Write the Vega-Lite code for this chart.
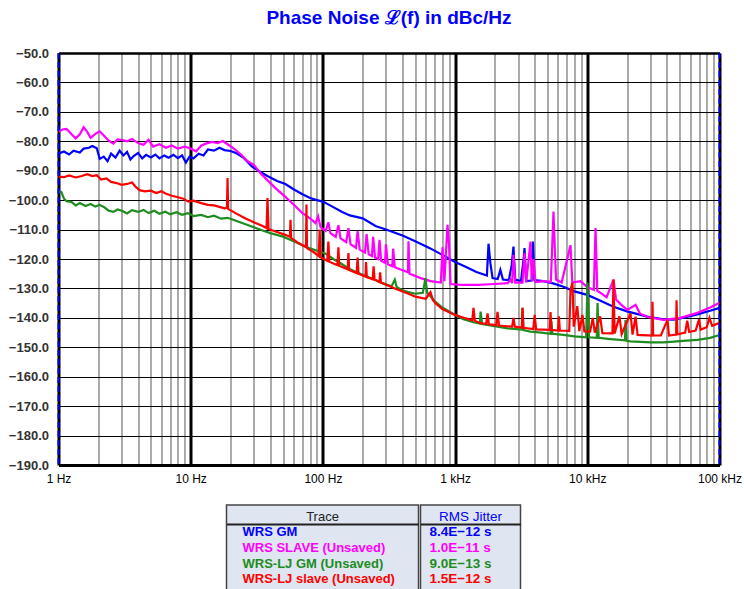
{
  "$schema": "https://vega.github.io/schema/vega-lite/v6.json",
  "padding": {"left": 8, "top": 9, "right": 0, "bottom": 0},
  "background": "white",
  "config": {"font": "Liberation Sans", "view": {"stroke": null}},
  "center": true,
  "spacing": 20,
  "datasets": {
    "tbl": [
      {"row": "h", "name": "Trace", "jitter": "RMS Jitter"},
      {"row": "1", "name": "WRS GM", "jitter": "8.4E−12 s"},
      {"row": "2", "name": "WRS SLAVE (Unsaved)", "jitter": "1.0E−11 s"},
      {"row": "3", "name": "WRS-LJ GM (Unsaved)", "jitter": "9.0E−13 s"},
      {"row": "4", "name": "WRS-LJ slave (Unsaved)", "jitter": "1.5E−12 s"}
    ]
  },
  "vconcat": [
    {
      "width": 661,
      "height": 412,
      "title": {"text": "Phase Noise ℒ(f) in dBc/Hz", "color": "#0000ff", "fontSize": 19, "fontWeight": "bold", "font": "Liberation Sans", "anchor": "middle", "frame": "group", "offset": 19},
      "layer": [
        {
          "data": {"values": [
            {"trace":"WRS GM","hz":1,"dbc":-84.2},{"trace":"WRS GM","hz":1.1,"dbc":-83.5},{"trace":"WRS GM","hz":1.2,"dbc":-84.5},{"trace":"WRS GM","hz":1.3,"dbc":-83.2},{"trace":"WRS GM","hz":1.45,"dbc":-83.8},{"trace":"WRS GM","hz":1.55,"dbc":-82.5},{"trace":"WRS GM","hz":1.7,"dbc":-82.2},{"trace":"WRS GM","hz":1.8,"dbc":-81.6},{"trace":"WRS GM","hz":1.95,"dbc":-82.4},{"trace":"WRS GM","hz":2.05,"dbc":-86.0},{"trace":"WRS GM","hz":2.2,"dbc":-85.2},{"trace":"WRS GM","hz":2.35,"dbc":-86.8},{"trace":"WRS GM","hz":2.5,"dbc":-84.2},{"trace":"WRS GM","hz":2.7,"dbc":-85.5},{"trace":"WRS GM","hz":2.9,"dbc":-83.2},{"trace":"WRS GM","hz":3.1,"dbc":-84.8},{"trace":"WRS GM","hz":3.3,"dbc":-83.6},{"trace":"WRS GM","hz":3.5,"dbc":-86.2},{"trace":"WRS GM","hz":3.7,"dbc":-85.0},{"trace":"WRS GM","hz":4.0,"dbc":-84.0},{"trace":"WRS GM","hz":4.3,"dbc":-85.8},{"trace":"WRS GM","hz":4.6,"dbc":-84.6},{"trace":"WRS GM","hz":5.0,"dbc":-85.5},{"trace":"WRS GM","hz":5.4,"dbc":-84.5},{"trace":"WRS GM","hz":5.8,"dbc":-85.8},{"trace":"WRS GM","hz":6.3,"dbc":-84.8},{"trace":"WRS GM","hz":6.8,"dbc":-85.6},{"trace":"WRS GM","hz":7.4,"dbc":-84.6},{"trace":"WRS GM","hz":8.0,"dbc":-85.7},{"trace":"WRS GM","hz":8.6,"dbc":-84.8},{"trace":"WRS GM","hz":9.2,"dbc":-87.2},{"trace":"WRS GM","hz":9.8,"dbc":-85.2},{"trace":"WRS GM","hz":10.5,"dbc":-85.8},{"trace":"WRS GM","hz":11.5,"dbc":-84.2},{"trace":"WRS GM","hz":12.5,"dbc":-84.8},{"trace":"WRS GM","hz":13.5,"dbc":-82.8},{"trace":"WRS GM","hz":15,"dbc":-83.2},{"trace":"WRS GM","hz":16.5,"dbc":-82.2},{"trace":"WRS GM","hz":18,"dbc":-83.0},{"trace":"WRS GM","hz":20,"dbc":-83.3},{"trace":"WRS GM","hz":22,"dbc":-84.0},{"trace":"WRS GM","hz":25,"dbc":-85.5},{"trace":"WRS GM","hz":29,"dbc":-88.5},{"trace":"WRS GM","hz":33,"dbc":-90.2},{"trace":"WRS GM","hz":38,"dbc":-91.8},{"trace":"WRS GM","hz":45,"dbc":-93.5},{"trace":"WRS GM","hz":52,"dbc":-94.5},{"trace":"WRS GM","hz":60,"dbc":-96.3},{"trace":"WRS GM","hz":70,"dbc":-98.0},{"trace":"WRS GM","hz":80,"dbc":-99.3},{"trace":"WRS GM","hz":90,"dbc":-100.0},{"trace":"WRS GM","hz":100,"dbc":-100.5},{"trace":"WRS GM","hz":118,"dbc":-102.2},{"trace":"WRS GM","hz":140,"dbc":-104.0},{"trace":"WRS GM","hz":160,"dbc":-105.2},{"trace":"WRS GM","hz":200,"dbc":-106.2},{"trace":"WRS GM","hz":250,"dbc":-108.8},{"trace":"WRS GM","hz":300,"dbc":-110.0},{"trace":"WRS GM","hz":400,"dbc":-112.0},{"trace":"WRS GM","hz":500,"dbc":-114.0},{"trace":"WRS GM","hz":650,"dbc":-116.4},{"trace":"WRS GM","hz":800,"dbc":-118.6},{"trace":"WRS GM","hz":1000,"dbc":-121.0},{"trace":"WRS GM","hz":1200,"dbc":-122.6},{"trace":"WRS GM","hz":1450,"dbc":-124.4},{"trace":"WRS GM","hz":1740,"dbc":-125.6},{"trace":"WRS GM","hz":1790,"dbc":-114.8},{"trace":"WRS GM","hz":1850,"dbc":-121.5},{"trace":"WRS GM","hz":1920,"dbc":-126.5},{"trace":"WRS GM","hz":2100,"dbc":-126.8},{"trace":"WRS GM","hz":2200,"dbc":-123.7},{"trace":"WRS GM","hz":2300,"dbc":-127.0},{"trace":"WRS GM","hz":2550,"dbc":-127.2},{"trace":"WRS GM","hz":2680,"dbc":-122.0},{"trace":"WRS GM","hz":2765,"dbc":-115.8},{"trace":"WRS GM","hz":2850,"dbc":-127.0},{"trace":"WRS GM","hz":3150,"dbc":-127.5},{"trace":"WRS GM","hz":3300,"dbc":-120.0},{"trace":"WRS GM","hz":3350,"dbc":-116.3},{"trace":"WRS GM","hz":3450,"dbc":-127.5},{"trace":"WRS GM","hz":3800,"dbc":-127.3},{"trace":"WRS GM","hz":3880,"dbc":-114.1},{"trace":"WRS GM","hz":3980,"dbc":-127.2},{"trace":"WRS GM","hz":4660,"dbc":-127.5},{"trace":"WRS GM","hz":5500,"dbc":-128.3},{"trace":"WRS GM","hz":6600,"dbc":-129.4},{"trace":"WRS GM","hz":8000,"dbc":-131.0},{"trace":"WRS GM","hz":10000,"dbc":-132.2},{"trace":"WRS GM","hz":12000,"dbc":-133.8},{"trace":"WRS GM","hz":15800,"dbc":-136.2},{"trace":"WRS GM","hz":20000,"dbc":-137.8},{"trace":"WRS GM","hz":28500,"dbc":-139.6},{"trace":"WRS GM","hz":37700,"dbc":-140.5},{"trace":"WRS GM","hz":45000,"dbc":-140.6},{"trace":"WRS GM","hz":53500,"dbc":-139.9},{"trace":"WRS GM","hz":68000,"dbc":-138.8},{"trace":"WRS GM","hz":85000,"dbc":-137.6},{"trace":"WRS GM","hz":100000,"dbc":-136.6},

            {"trace":"WRS SLAVE (Unsaved)","hz":1,"dbc":-76.8},{"trace":"WRS SLAVE (Unsaved)","hz":1.07,"dbc":-76.0},{"trace":"WRS SLAVE (Unsaved)","hz":1.15,"dbc":-75.8},{"trace":"WRS SLAVE (Unsaved)","hz":1.25,"dbc":-77.5},{"trace":"WRS SLAVE (Unsaved)","hz":1.35,"dbc":-79.0},{"trace":"WRS SLAVE (Unsaved)","hz":1.45,"dbc":-77.6},{"trace":"WRS SLAVE (Unsaved)","hz":1.55,"dbc":-75.2},{"trace":"WRS SLAVE (Unsaved)","hz":1.65,"dbc":-76.8},{"trace":"WRS SLAVE (Unsaved)","hz":1.75,"dbc":-78.8},{"trace":"WRS SLAVE (Unsaved)","hz":1.9,"dbc":-77.5},{"trace":"WRS SLAVE (Unsaved)","hz":2.05,"dbc":-76.6},{"trace":"WRS SLAVE (Unsaved)","hz":2.2,"dbc":-78.0},{"trace":"WRS SLAVE (Unsaved)","hz":2.4,"dbc":-79.8},{"trace":"WRS SLAVE (Unsaved)","hz":2.6,"dbc":-80.8},{"trace":"WRS SLAVE (Unsaved)","hz":2.8,"dbc":-79.4},{"trace":"WRS SLAVE (Unsaved)","hz":3.05,"dbc":-79.6},{"trace":"WRS SLAVE (Unsaved)","hz":3.3,"dbc":-80.0},{"trace":"WRS SLAVE (Unsaved)","hz":3.6,"dbc":-79.2},{"trace":"WRS SLAVE (Unsaved)","hz":4.0,"dbc":-80.6},{"trace":"WRS SLAVE (Unsaved)","hz":4.4,"dbc":-81.2},{"trace":"WRS SLAVE (Unsaved)","hz":4.8,"dbc":-79.5},{"trace":"WRS SLAVE (Unsaved)","hz":5.2,"dbc":-81.8},{"trace":"WRS SLAVE (Unsaved)","hz":5.8,"dbc":-81.0},{"trace":"WRS SLAVE (Unsaved)","hz":6.5,"dbc":-82.2},{"trace":"WRS SLAVE (Unsaved)","hz":7.2,"dbc":-81.4},{"trace":"WRS SLAVE (Unsaved)","hz":8.0,"dbc":-82.5},{"trace":"WRS SLAVE (Unsaved)","hz":9.0,"dbc":-81.8},{"trace":"WRS SLAVE (Unsaved)","hz":10.0,"dbc":-82.5},{"trace":"WRS SLAVE (Unsaved)","hz":11,"dbc":-83.4},{"trace":"WRS SLAVE (Unsaved)","hz":12,"dbc":-81.5},{"trace":"WRS SLAVE (Unsaved)","hz":13,"dbc":-80.8},{"trace":"WRS SLAVE (Unsaved)","hz":14.5,"dbc":-80.2},{"trace":"WRS SLAVE (Unsaved)","hz":16,"dbc":-80.6},{"trace":"WRS SLAVE (Unsaved)","hz":17.5,"dbc":-79.9},{"trace":"WRS SLAVE (Unsaved)","hz":19,"dbc":-81.0},{"trace":"WRS SLAVE (Unsaved)","hz":21,"dbc":-82.3},{"trace":"WRS SLAVE (Unsaved)","hz":24,"dbc":-84.5},{"trace":"WRS SLAVE (Unsaved)","hz":27,"dbc":-86.8},{"trace":"WRS SLAVE (Unsaved)","hz":30,"dbc":-88.0},{"trace":"WRS SLAVE (Unsaved)","hz":34,"dbc":-91.0},{"trace":"WRS SLAVE (Unsaved)","hz":38,"dbc":-93.2},{"trace":"WRS SLAVE (Unsaved)","hz":44,"dbc":-96.0},{"trace":"WRS SLAVE (Unsaved)","hz":52,"dbc":-98.9},{"trace":"WRS SLAVE (Unsaved)","hz":60,"dbc":-101.5},{"trace":"WRS SLAVE (Unsaved)","hz":70,"dbc":-104.4},{"trace":"WRS SLAVE (Unsaved)","hz":80,"dbc":-106.2},{"trace":"WRS SLAVE (Unsaved)","hz":88,"dbc":-107.8},{"trace":"WRS SLAVE (Unsaved)","hz":92,"dbc":-105.5},{"trace":"WRS SLAVE (Unsaved)","hz":96,"dbc":-109.2},{"trace":"WRS SLAVE (Unsaved)","hz":105,"dbc":-110.5},{"trace":"WRS SLAVE (Unsaved)","hz":110,"dbc":-107.5},{"trace":"WRS SLAVE (Unsaved)","hz":114,"dbc":-111.2},{"trace":"WRS SLAVE (Unsaved)","hz":125,"dbc":-112.5},{"trace":"WRS SLAVE (Unsaved)","hz":131,"dbc":-108.5},{"trace":"WRS SLAVE (Unsaved)","hz":136,"dbc":-113.0},{"trace":"WRS SLAVE (Unsaved)","hz":150,"dbc":-114.3},{"trace":"WRS SLAVE (Unsaved)","hz":156,"dbc":-109.5},{"trace":"WRS SLAVE (Unsaved)","hz":162,"dbc":-115.0},{"trace":"WRS SLAVE (Unsaved)","hz":178,"dbc":-116.2},{"trace":"WRS SLAVE (Unsaved)","hz":183,"dbc":-110.5},{"trace":"WRS SLAVE (Unsaved)","hz":190,"dbc":-116.8},{"trace":"WRS SLAVE (Unsaved)","hz":208,"dbc":-117.8},{"trace":"WRS SLAVE (Unsaved)","hz":214,"dbc":-111.5},{"trace":"WRS SLAVE (Unsaved)","hz":222,"dbc":-118.4},{"trace":"WRS SLAVE (Unsaved)","hz":235,"dbc":-119.0},{"trace":"WRS SLAVE (Unsaved)","hz":240,"dbc":-112.5},{"trace":"WRS SLAVE (Unsaved)","hz":248,"dbc":-119.5},{"trace":"WRS SLAVE (Unsaved)","hz":262,"dbc":-120.0},{"trace":"WRS SLAVE (Unsaved)","hz":268,"dbc":-113.5},{"trace":"WRS SLAVE (Unsaved)","hz":276,"dbc":-120.6},{"trace":"WRS SLAVE (Unsaved)","hz":295,"dbc":-121.3},{"trace":"WRS SLAVE (Unsaved)","hz":300,"dbc":-115.0},{"trace":"WRS SLAVE (Unsaved)","hz":310,"dbc":-121.8},{"trace":"WRS SLAVE (Unsaved)","hz":335,"dbc":-122.5},{"trace":"WRS SLAVE (Unsaved)","hz":340,"dbc":-116.5},{"trace":"WRS SLAVE (Unsaved)","hz":350,"dbc":-122.8},{"trace":"WRS SLAVE (Unsaved)","hz":400,"dbc":-123.8},{"trace":"WRS SLAVE (Unsaved)","hz":440,"dbc":-124.5},{"trace":"WRS SLAVE (Unsaved)","hz":444,"dbc":-114.0},{"trace":"WRS SLAVE (Unsaved)","hz":452,"dbc":-125.0},{"trace":"WRS SLAVE (Unsaved)","hz":550,"dbc":-126.5},{"trace":"WRS SLAVE (Unsaved)","hz":650,"dbc":-127.5},{"trace":"WRS SLAVE (Unsaved)","hz":780,"dbc":-128.0},{"trace":"WRS SLAVE (Unsaved)","hz":803,"dbc":-116.0},{"trace":"WRS SLAVE (Unsaved)","hz":830,"dbc":-127.5},{"trace":"WRS SLAVE (Unsaved)","hz":876,"dbc":-108.4},{"trace":"WRS SLAVE (Unsaved)","hz":900,"dbc":-115.0},{"trace":"WRS SLAVE (Unsaved)","hz":923,"dbc":-128.5},{"trace":"WRS SLAVE (Unsaved)","hz":1100,"dbc":-128.8},{"trace":"WRS SLAVE (Unsaved)","hz":1500,"dbc":-128.8},{"trace":"WRS SLAVE (Unsaved)","hz":2000,"dbc":-128.5},{"trace":"WRS SLAVE (Unsaved)","hz":2500,"dbc":-128.2},{"trace":"WRS SLAVE (Unsaved)","hz":2623,"dbc":-127.0},{"trace":"WRS SLAVE (Unsaved)","hz":2700,"dbc":-128.2},{"trace":"WRS SLAVE (Unsaved)","hz":2765,"dbc":-118.6},{"trace":"WRS SLAVE (Unsaved)","hz":2850,"dbc":-128.0},{"trace":"WRS SLAVE (Unsaved)","hz":3235,"dbc":-128.0},{"trace":"WRS SLAVE (Unsaved)","hz":3350,"dbc":-118.0},{"trace":"WRS SLAVE (Unsaved)","hz":3450,"dbc":-128.0},{"trace":"WRS SLAVE (Unsaved)","hz":3718,"dbc":-114.1},{"trace":"WRS SLAVE (Unsaved)","hz":3800,"dbc":-127.5},{"trace":"WRS SLAVE (Unsaved)","hz":3918,"dbc":-120.0},{"trace":"WRS SLAVE (Unsaved)","hz":4050,"dbc":-127.8},{"trace":"WRS SLAVE (Unsaved)","hz":4666,"dbc":-127.5},{"trace":"WRS SLAVE (Unsaved)","hz":5300,"dbc":-127.8},{"trace":"WRS SLAVE (Unsaved)","hz":5550,"dbc":-103.9},{"trace":"WRS SLAVE (Unsaved)","hz":5800,"dbc":-127.0},{"trace":"WRS SLAVE (Unsaved)","hz":6400,"dbc":-128.0},{"trace":"WRS SLAVE (Unsaved)","hz":7464,"dbc":-115.3},{"trace":"WRS SLAVE (Unsaved)","hz":7700,"dbc":-128.0},{"trace":"WRS SLAVE (Unsaved)","hz":8885,"dbc":-127.5},{"trace":"WRS SLAVE (Unsaved)","hz":10000,"dbc":-129.5},{"trace":"WRS SLAVE (Unsaved)","hz":11200,"dbc":-130.5},{"trace":"WRS SLAVE (Unsaved)","hz":11540,"dbc":-109.5},{"trace":"WRS SLAVE (Unsaved)","hz":11900,"dbc":-130.8},{"trace":"WRS SLAVE (Unsaved)","hz":12590,"dbc":-131.5},{"trace":"WRS SLAVE (Unsaved)","hz":14000,"dbc":-133.0},{"trace":"WRS SLAVE (Unsaved)","hz":15780,"dbc":-127.0},{"trace":"WRS SLAVE (Unsaved)","hz":16500,"dbc":-133.8},{"trace":"WRS SLAVE (Unsaved)","hz":18000,"dbc":-135.5},{"trace":"WRS SLAVE (Unsaved)","hz":20140,"dbc":-137.3},{"trace":"WRS SLAVE (Unsaved)","hz":23170,"dbc":-135.6},{"trace":"WRS SLAVE (Unsaved)","hz":25000,"dbc":-138.5},{"trace":"WRS SLAVE (Unsaved)","hz":28500,"dbc":-139.7},{"trace":"WRS SLAVE (Unsaved)","hz":37700,"dbc":-140.7},{"trace":"WRS SLAVE (Unsaved)","hz":50700,"dbc":-140.0},{"trace":"WRS SLAVE (Unsaved)","hz":68000,"dbc":-138.3},{"trace":"WRS SLAVE (Unsaved)","hz":85000,"dbc":-136.5},{"trace":"WRS SLAVE (Unsaved)","hz":100000,"dbc":-134.9},

            {"trace":"WRS-LJ GM (Unsaved)","hz":1,"dbc":-97.0},{"trace":"WRS-LJ GM (Unsaved)","hz":1.05,"dbc":-97.2},{"trace":"WRS-LJ GM (Unsaved)","hz":1.1,"dbc":-99.5},{"trace":"WRS-LJ GM (Unsaved)","hz":1.15,"dbc":-100.4},{"trace":"WRS-LJ GM (Unsaved)","hz":1.25,"dbc":-100.6},{"trace":"WRS-LJ GM (Unsaved)","hz":1.35,"dbc":-101.8},{"trace":"WRS-LJ GM (Unsaved)","hz":1.45,"dbc":-101.0},{"trace":"WRS-LJ GM (Unsaved)","hz":1.6,"dbc":-102.0},{"trace":"WRS-LJ GM (Unsaved)","hz":1.75,"dbc":-101.3},{"trace":"WRS-LJ GM (Unsaved)","hz":1.9,"dbc":-102.2},{"trace":"WRS-LJ GM (Unsaved)","hz":2.05,"dbc":-101.6},{"trace":"WRS-LJ GM (Unsaved)","hz":2.2,"dbc":-102.3},{"trace":"WRS-LJ GM (Unsaved)","hz":2.4,"dbc":-103.6},{"trace":"WRS-LJ GM (Unsaved)","hz":2.6,"dbc":-104.0},{"trace":"WRS-LJ GM (Unsaved)","hz":2.8,"dbc":-103.2},{"trace":"WRS-LJ GM (Unsaved)","hz":3.05,"dbc":-103.7},{"trace":"WRS-LJ GM (Unsaved)","hz":3.3,"dbc":-104.5},{"trace":"WRS-LJ GM (Unsaved)","hz":3.6,"dbc":-103.4},{"trace":"WRS-LJ GM (Unsaved)","hz":4.0,"dbc":-104.0},{"trace":"WRS-LJ GM (Unsaved)","hz":4.4,"dbc":-103.3},{"trace":"WRS-LJ GM (Unsaved)","hz":4.8,"dbc":-104.4},{"trace":"WRS-LJ GM (Unsaved)","hz":5.3,"dbc":-103.6},{"trace":"WRS-LJ GM (Unsaved)","hz":5.8,"dbc":-104.6},{"trace":"WRS-LJ GM (Unsaved)","hz":6.4,"dbc":-103.9},{"trace":"WRS-LJ GM (Unsaved)","hz":7.0,"dbc":-104.8},{"trace":"WRS-LJ GM (Unsaved)","hz":7.8,"dbc":-104.1},{"trace":"WRS-LJ GM (Unsaved)","hz":8.6,"dbc":-105.0},{"trace":"WRS-LJ GM (Unsaved)","hz":9.5,"dbc":-104.4},{"trace":"WRS-LJ GM (Unsaved)","hz":10.5,"dbc":-105.4},{"trace":"WRS-LJ GM (Unsaved)","hz":12,"dbc":-105.0},{"trace":"WRS-LJ GM (Unsaved)","hz":13.5,"dbc":-105.8},{"trace":"WRS-LJ GM (Unsaved)","hz":15,"dbc":-105.3},{"trace":"WRS-LJ GM (Unsaved)","hz":17,"dbc":-106.3},{"trace":"WRS-LJ GM (Unsaved)","hz":19,"dbc":-106.0},{"trace":"WRS-LJ GM (Unsaved)","hz":22,"dbc":-107.0},{"trace":"WRS-LJ GM (Unsaved)","hz":26,"dbc":-108.2},{"trace":"WRS-LJ GM (Unsaved)","hz":30,"dbc":-109.2},{"trace":"WRS-LJ GM (Unsaved)","hz":35,"dbc":-110.3},{"trace":"WRS-LJ GM (Unsaved)","hz":40,"dbc":-111.2},{"trace":"WRS-LJ GM (Unsaved)","hz":50,"dbc":-112.4},{"trace":"WRS-LJ GM (Unsaved)","hz":60,"dbc":-114.0},{"trace":"WRS-LJ GM (Unsaved)","hz":70,"dbc":-115.3},{"trace":"WRS-LJ GM (Unsaved)","hz":80,"dbc":-116.4},{"trace":"WRS-LJ GM (Unsaved)","hz":90,"dbc":-117.2},{"trace":"WRS-LJ GM (Unsaved)","hz":105,"dbc":-118.2},{"trace":"WRS-LJ GM (Unsaved)","hz":120,"dbc":-120.0},{"trace":"WRS-LJ GM (Unsaved)","hz":140,"dbc":-121.8},{"trace":"WRS-LJ GM (Unsaved)","hz":156,"dbc":-123.2},{"trace":"WRS-LJ GM (Unsaved)","hz":180,"dbc":-124.5},{"trace":"WRS-LJ GM (Unsaved)","hz":210,"dbc":-125.8},{"trace":"WRS-LJ GM (Unsaved)","hz":240,"dbc":-126.8},{"trace":"WRS-LJ GM (Unsaved)","hz":282,"dbc":-128.2},{"trace":"WRS-LJ GM (Unsaved)","hz":330,"dbc":-129.3},{"trace":"WRS-LJ GM (Unsaved)","hz":350,"dbc":-127.0},{"trace":"WRS-LJ GM (Unsaved)","hz":362,"dbc":-129.6},{"trace":"WRS-LJ GM (Unsaved)","hz":420,"dbc":-131.0},{"trace":"WRS-LJ GM (Unsaved)","hz":500,"dbc":-131.8},{"trace":"WRS-LJ GM (Unsaved)","hz":570,"dbc":-131.5},{"trace":"WRS-LJ GM (Unsaved)","hz":597,"dbc":-126.5},{"trace":"WRS-LJ GM (Unsaved)","hz":615,"dbc":-131.5},{"trace":"WRS-LJ GM (Unsaved)","hz":711,"dbc":-134.6},{"trace":"WRS-LJ GM (Unsaved)","hz":800,"dbc":-136.5},{"trace":"WRS-LJ GM (Unsaved)","hz":1000,"dbc":-139.0},{"trace":"WRS-LJ GM (Unsaved)","hz":1158,"dbc":-140.5},{"trace":"WRS-LJ GM (Unsaved)","hz":1378,"dbc":-141.5},{"trace":"WRS-LJ GM (Unsaved)","hz":1540,"dbc":-142.0},{"trace":"WRS-LJ GM (Unsaved)","hz":1560,"dbc":-137.9},{"trace":"WRS-LJ GM (Unsaved)","hz":1600,"dbc":-142.1},{"trace":"WRS-LJ GM (Unsaved)","hz":2093,"dbc":-143.0},{"trace":"WRS-LJ GM (Unsaved)","hz":2500,"dbc":-143.6},{"trace":"WRS-LJ GM (Unsaved)","hz":3200,"dbc":-144.0},{"trace":"WRS-LJ GM (Unsaved)","hz":3235,"dbc":-136.6},{"trace":"WRS-LJ GM (Unsaved)","hz":3300,"dbc":-144.2},{"trace":"WRS-LJ GM (Unsaved)","hz":3718,"dbc":-144.7},{"trace":"WRS-LJ GM (Unsaved)","hz":4500,"dbc":-145.0},{"trace":"WRS-LJ GM (Unsaved)","hz":5270,"dbc":-145.4},{"trace":"WRS-LJ GM (Unsaved)","hz":5350,"dbc":-141.0},{"trace":"WRS-LJ GM (Unsaved)","hz":5450,"dbc":-145.4},{"trace":"WRS-LJ GM (Unsaved)","hz":6607,"dbc":-145.8},{"trace":"WRS-LJ GM (Unsaved)","hz":8000,"dbc":-146.3},{"trace":"WRS-LJ GM (Unsaved)","hz":9800,"dbc":-146.6},{"trace":"WRS-LJ GM (Unsaved)","hz":10040,"dbc":-128.0},{"trace":"WRS-LJ GM (Unsaved)","hz":10300,"dbc":-146.6},{"trace":"WRS-LJ GM (Unsaved)","hz":11800,"dbc":-146.8},{"trace":"WRS-LJ GM (Unsaved)","hz":11950,"dbc":-135.0},{"trace":"WRS-LJ GM (Unsaved)","hz":12200,"dbc":-146.8},{"trace":"WRS-LJ GM (Unsaved)","hz":15000,"dbc":-147.2},{"trace":"WRS-LJ GM (Unsaved)","hz":19300,"dbc":-147.6},{"trace":"WRS-LJ GM (Unsaved)","hz":19450,"dbc":-140.7},{"trace":"WRS-LJ GM (Unsaved)","hz":19800,"dbc":-147.8},{"trace":"WRS-LJ GM (Unsaved)","hz":21230,"dbc":-148.0},{"trace":"WRS-LJ GM (Unsaved)","hz":30000,"dbc":-148.3},{"trace":"WRS-LJ GM (Unsaved)","hz":37670,"dbc":-148.3},{"trace":"WRS-LJ GM (Unsaved)","hz":45000,"dbc":-148.1},{"trace":"WRS-LJ GM (Unsaved)","hz":53000,"dbc":-147.8},{"trace":"WRS-LJ GM (Unsaved)","hz":68000,"dbc":-147.5},{"trace":"WRS-LJ GM (Unsaved)","hz":85000,"dbc":-146.8},{"trace":"WRS-LJ GM (Unsaved)","hz":100000,"dbc":-145.8},

            {"trace":"WRS-LJ slave (Unsaved)","hz":1,"dbc":-92.0},{"trace":"WRS-LJ slave (Unsaved)","hz":1.1,"dbc":-92.2},{"trace":"WRS-LJ slave (Unsaved)","hz":1.2,"dbc":-91.6},{"trace":"WRS-LJ slave (Unsaved)","hz":1.35,"dbc":-92.3},{"trace":"WRS-LJ slave (Unsaved)","hz":1.5,"dbc":-91.8},{"trace":"WRS-LJ slave (Unsaved)","hz":1.65,"dbc":-91.2},{"trace":"WRS-LJ slave (Unsaved)","hz":1.8,"dbc":-91.8},{"trace":"WRS-LJ slave (Unsaved)","hz":1.95,"dbc":-91.5},{"trace":"WRS-LJ slave (Unsaved)","hz":2.1,"dbc":-93.0},{"trace":"WRS-LJ slave (Unsaved)","hz":2.3,"dbc":-92.6},{"trace":"WRS-LJ slave (Unsaved)","hz":2.5,"dbc":-93.8},{"trace":"WRS-LJ slave (Unsaved)","hz":2.75,"dbc":-94.2},{"trace":"WRS-LJ slave (Unsaved)","hz":3.0,"dbc":-94.8},{"trace":"WRS-LJ slave (Unsaved)","hz":3.3,"dbc":-94.5},{"trace":"WRS-LJ slave (Unsaved)","hz":3.6,"dbc":-94.0},{"trace":"WRS-LJ slave (Unsaved)","hz":3.8,"dbc":-95.3},{"trace":"WRS-LJ slave (Unsaved)","hz":4.1,"dbc":-96.6},{"trace":"WRS-LJ slave (Unsaved)","hz":4.5,"dbc":-97.0},{"trace":"WRS-LJ slave (Unsaved)","hz":5.0,"dbc":-96.8},{"trace":"WRS-LJ slave (Unsaved)","hz":5.5,"dbc":-97.6},{"trace":"WRS-LJ slave (Unsaved)","hz":6.0,"dbc":-97.0},{"trace":"WRS-LJ slave (Unsaved)","hz":6.5,"dbc":-97.8},{"trace":"WRS-LJ slave (Unsaved)","hz":7.2,"dbc":-98.5},{"trace":"WRS-LJ slave (Unsaved)","hz":8.0,"dbc":-99.0},{"trace":"WRS-LJ slave (Unsaved)","hz":8.8,"dbc":-99.5},{"trace":"WRS-LJ slave (Unsaved)","hz":9.6,"dbc":-100.5},{"trace":"WRS-LJ slave (Unsaved)","hz":10.5,"dbc":-100.2},{"trace":"WRS-LJ slave (Unsaved)","hz":12,"dbc":-101.0},{"trace":"WRS-LJ slave (Unsaved)","hz":13.5,"dbc":-101.6},{"trace":"WRS-LJ slave (Unsaved)","hz":15,"dbc":-101.8},{"trace":"WRS-LJ slave (Unsaved)","hz":16.5,"dbc":-102.3},{"trace":"WRS-LJ slave (Unsaved)","hz":18,"dbc":-102.8},{"trace":"WRS-LJ slave (Unsaved)","hz":18.8,"dbc":-102.6},{"trace":"WRS-LJ slave (Unsaved)","hz":19.0,"dbc":-92.5},{"trace":"WRS-LJ slave (Unsaved)","hz":19.2,"dbc":-103.0},{"trace":"WRS-LJ slave (Unsaved)","hz":22,"dbc":-104.5},{"trace":"WRS-LJ slave (Unsaved)","hz":26,"dbc":-106.2},{"trace":"WRS-LJ slave (Unsaved)","hz":30,"dbc":-107.5},{"trace":"WRS-LJ slave (Unsaved)","hz":35,"dbc":-108.8},{"trace":"WRS-LJ slave (Unsaved)","hz":37.5,"dbc":-109.5},{"trace":"WRS-LJ slave (Unsaved)","hz":38.1,"dbc":-99.3},{"trace":"WRS-LJ slave (Unsaved)","hz":38.8,"dbc":-109.8},{"trace":"WRS-LJ slave (Unsaved)","hz":45,"dbc":-110.8},{"trace":"WRS-LJ slave (Unsaved)","hz":52,"dbc":-111.8},{"trace":"WRS-LJ slave (Unsaved)","hz":56.3,"dbc":-112.5},{"trace":"WRS-LJ slave (Unsaved)","hz":56.9,"dbc":-106.7},{"trace":"WRS-LJ slave (Unsaved)","hz":57.5,"dbc":-112.8},{"trace":"WRS-LJ slave (Unsaved)","hz":65,"dbc":-114.5},{"trace":"WRS-LJ slave (Unsaved)","hz":74.5,"dbc":-116.0},{"trace":"WRS-LJ slave (Unsaved)","hz":75.1,"dbc":-101.5},{"trace":"WRS-LJ slave (Unsaved)","hz":75.8,"dbc":-116.3},{"trace":"WRS-LJ slave (Unsaved)","hz":86,"dbc":-117.8},{"trace":"WRS-LJ slave (Unsaved)","hz":93,"dbc":-119.0},{"trace":"WRS-LJ slave (Unsaved)","hz":94.5,"dbc":-110.0},{"trace":"WRS-LJ slave (Unsaved)","hz":96,"dbc":-119.4},{"trace":"WRS-LJ slave (Unsaved)","hz":108,"dbc":-120.6},{"trace":"WRS-LJ slave (Unsaved)","hz":110,"dbc":-114.1},{"trace":"WRS-LJ slave (Unsaved)","hz":112,"dbc":-120.9},{"trace":"WRS-LJ slave (Unsaved)","hz":129,"dbc":-122.1},{"trace":"WRS-LJ slave (Unsaved)","hz":131,"dbc":-116.0},{"trace":"WRS-LJ slave (Unsaved)","hz":133,"dbc":-122.3},{"trace":"WRS-LJ slave (Unsaved)","hz":154,"dbc":-123.5},{"trace":"WRS-LJ slave (Unsaved)","hz":156,"dbc":-118.0},{"trace":"WRS-LJ slave (Unsaved)","hz":158,"dbc":-123.7},{"trace":"WRS-LJ slave (Unsaved)","hz":180,"dbc":-124.8},{"trace":"WRS-LJ slave (Unsaved)","hz":183,"dbc":-119.5},{"trace":"WRS-LJ slave (Unsaved)","hz":186,"dbc":-125.0},{"trace":"WRS-LJ slave (Unsaved)","hz":210,"dbc":-126.0},{"trace":"WRS-LJ slave (Unsaved)","hz":212,"dbc":-121.0},{"trace":"WRS-LJ slave (Unsaved)","hz":215,"dbc":-126.2},{"trace":"WRS-LJ slave (Unsaved)","hz":238,"dbc":-126.9},{"trace":"WRS-LJ slave (Unsaved)","hz":242,"dbc":-122.5},{"trace":"WRS-LJ slave (Unsaved)","hz":246,"dbc":-127.0},{"trace":"WRS-LJ slave (Unsaved)","hz":268,"dbc":-127.8},{"trace":"WRS-LJ slave (Unsaved)","hz":271,"dbc":-124.5},{"trace":"WRS-LJ slave (Unsaved)","hz":275,"dbc":-128.0},{"trace":"WRS-LJ slave (Unsaved)","hz":350,"dbc":-130.0},{"trace":"WRS-LJ slave (Unsaved)","hz":444,"dbc":-131.8},{"trace":"WRS-LJ slave (Unsaved)","hz":502,"dbc":-132.8},{"trace":"WRS-LJ slave (Unsaved)","hz":600,"dbc":-133.5},{"trace":"WRS-LJ slave (Unsaved)","hz":651,"dbc":-131.3},{"trace":"WRS-LJ slave (Unsaved)","hz":680,"dbc":-134.0},{"trace":"WRS-LJ slave (Unsaved)","hz":711,"dbc":-135.0},{"trace":"WRS-LJ slave (Unsaved)","hz":800,"dbc":-137.0},{"trace":"WRS-LJ slave (Unsaved)","hz":1000,"dbc":-139.0},{"trace":"WRS-LJ slave (Unsaved)","hz":1100,"dbc":-139.6},{"trace":"WRS-LJ slave (Unsaved)","hz":1350,"dbc":-140.8},{"trace":"WRS-LJ slave (Unsaved)","hz":1378,"dbc":-136.6},{"trace":"WRS-LJ slave (Unsaved)","hz":1410,"dbc":-141.0},{"trace":"WRS-LJ slave (Unsaved)","hz":1556,"dbc":-141.8},{"trace":"WRS-LJ slave (Unsaved)","hz":1720,"dbc":-142.0},{"trace":"WRS-LJ slave (Unsaved)","hz":1760,"dbc":-138.5},{"trace":"WRS-LJ slave (Unsaved)","hz":1800,"dbc":-142.2},{"trace":"WRS-LJ slave (Unsaved)","hz":2050,"dbc":-142.5},{"trace":"WRS-LJ slave (Unsaved)","hz":2093,"dbc":-138.0},{"trace":"WRS-LJ slave (Unsaved)","hz":2150,"dbc":-142.6},{"trace":"WRS-LJ slave (Unsaved)","hz":2700,"dbc":-143.0},{"trace":"WRS-LJ slave (Unsaved)","hz":2765,"dbc":-140.0},{"trace":"WRS-LJ slave (Unsaved)","hz":2830,"dbc":-143.0},{"trace":"WRS-LJ slave (Unsaved)","hz":3200,"dbc":-143.3},{"trace":"WRS-LJ slave (Unsaved)","hz":3235,"dbc":-136.6},{"trace":"WRS-LJ slave (Unsaved)","hz":3280,"dbc":-143.4},{"trace":"WRS-LJ slave (Unsaved)","hz":3900,"dbc":-143.8},{"trace":"WRS-LJ slave (Unsaved)","hz":4000,"dbc":-139.0},{"trace":"WRS-LJ slave (Unsaved)","hz":4100,"dbc":-143.9},{"trace":"WRS-LJ slave (Unsaved)","hz":5200,"dbc":-144.1},{"trace":"WRS-LJ slave (Unsaved)","hz":5270,"dbc":-138.0},{"trace":"WRS-LJ slave (Unsaved)","hz":5350,"dbc":-144.1},{"trace":"WRS-LJ slave (Unsaved)","hz":6000,"dbc":-144.3},{"trace":"WRS-LJ slave (Unsaved)","hz":6100,"dbc":-139.5},{"trace":"WRS-LJ slave (Unsaved)","hz":6200,"dbc":-144.3},{"trace":"WRS-LJ slave (Unsaved)","hz":7300,"dbc":-144.4},{"trace":"WRS-LJ slave (Unsaved)","hz":7464,"dbc":-130.5},{"trace":"WRS-LJ slave (Unsaved)","hz":7727,"dbc":-128.0},{"trace":"WRS-LJ slave (Unsaved)","hz":7900,"dbc":-143.0},{"trace":"WRS-LJ slave (Unsaved)","hz":8400,"dbc":-136.0},{"trace":"WRS-LJ slave (Unsaved)","hz":8700,"dbc":-144.5},{"trace":"WRS-LJ slave (Unsaved)","hz":9200,"dbc":-139.0},{"trace":"WRS-LJ slave (Unsaved)","hz":9500,"dbc":-144.6},{"trace":"WRS-LJ slave (Unsaved)","hz":10500,"dbc":-144.7},{"trace":"WRS-LJ slave (Unsaved)","hz":11000,"dbc":-140.0},{"trace":"WRS-LJ slave (Unsaved)","hz":11400,"dbc":-145.0},{"trace":"WRS-LJ slave (Unsaved)","hz":12500,"dbc":-139.5},{"trace":"WRS-LJ slave (Unsaved)","hz":13000,"dbc":-145.2},{"trace":"WRS-LJ slave (Unsaved)","hz":15500,"dbc":-145.3},{"trace":"WRS-LJ slave (Unsaved)","hz":15780,"dbc":-127.0},{"trace":"WRS-LJ slave (Unsaved)","hz":16100,"dbc":-145.3},{"trace":"WRS-LJ slave (Unsaved)","hz":17500,"dbc":-139.5},{"trace":"WRS-LJ slave (Unsaved)","hz":18200,"dbc":-145.5},{"trace":"WRS-LJ slave (Unsaved)","hz":21230,"dbc":-138.5},{"trace":"WRS-LJ slave (Unsaved)","hz":22000,"dbc":-145.7},{"trace":"WRS-LJ slave (Unsaved)","hz":23170,"dbc":-139.6},{"trace":"WRS-LJ slave (Unsaved)","hz":24000,"dbc":-145.8},{"trace":"WRS-LJ slave (Unsaved)","hz":31000,"dbc":-146.0},{"trace":"WRS-LJ slave (Unsaved)","hz":31120,"dbc":-134.5},{"trace":"WRS-LJ slave (Unsaved)","hz":31500,"dbc":-146.0},{"trace":"WRS-LJ slave (Unsaved)","hz":36000,"dbc":-146.0},{"trace":"WRS-LJ slave (Unsaved)","hz":40430,"dbc":-140.7},{"trace":"WRS-LJ slave (Unsaved)","hz":41500,"dbc":-146.0},{"trace":"WRS-LJ slave (Unsaved)","hz":47000,"dbc":-145.7},{"trace":"WRS-LJ slave (Unsaved)","hz":47300,"dbc":-134.0},{"trace":"WRS-LJ slave (Unsaved)","hz":48000,"dbc":-145.6},{"trace":"WRS-LJ slave (Unsaved)","hz":55000,"dbc":-145.0},{"trace":"WRS-LJ slave (Unsaved)","hz":57000,"dbc":-141.0},{"trace":"WRS-LJ slave (Unsaved)","hz":59000,"dbc":-144.8},{"trace":"WRS-LJ slave (Unsaved)","hz":66000,"dbc":-144.3},{"trace":"WRS-LJ slave (Unsaved)","hz":70000,"dbc":-140.5},{"trace":"WRS-LJ slave (Unsaved)","hz":72000,"dbc":-144.0},{"trace":"WRS-LJ slave (Unsaved)","hz":80000,"dbc":-143.2},{"trace":"WRS-LJ slave (Unsaved)","hz":84000,"dbc":-140.0},{"trace":"WRS-LJ slave (Unsaved)","hz":88000,"dbc":-142.7},{"trace":"WRS-LJ slave (Unsaved)","hz":100000,"dbc":-141.7}
          ]},
          "mark": {"type": "line", "strokeWidth": 2.2, "clip": true},
          "encoding": {
            "x": {"field": "hz", "type": "quantitative",
              "scale": {"type": "log", "domain": [1, 100000], "nice": false},
              "axis": {
                "title": null,
                "values": [1,2,3,4,5,6,7,8,9,10,20,30,40,50,60,70,80,90,100,200,300,400,500,600,700,800,900,1000,2000,3000,4000,5000,6000,7000,8000,9000,10000,20000,30000,40000,50000,60000,70000,80000,90000,100000],
                "tickCount": 100,
                "labelExpr": "datum.value==1?'1 Hz':datum.value==10?'10 Hz':datum.value==100?'100 Hz':datum.value==1000?'1 kHz':datum.value==10000?'10 kHz':datum.value==100000?'100 kHz':''",
                "labelOverlap": false, "labelFlush": false, "labelBound": false,
                "labelFont": "Liberation Sans", "labelFontSize": 12, "labelColor": "#000", "labelPadding": 8,
                "ticks": false,
                "domain": true, "domainColor": "#000", "domainWidth": 3,
                "grid": true,
                "gridColor": {"condition": {"test": "indexof([1,10,100,1000,10000,100000], datum.value) >= 0", "value": "#000"}, "value": "#555"},
                "gridWidth": {"condition": {"test": "indexof([1,10,100,1000,10000,100000], datum.value) >= 0", "value": 3}, "value": 1},
                "gridOpacity": 1
              }
            },
            "y": {"field": "dbc", "type": "quantitative",
              "scale": {"domain": [-190, -50], "nice": false, "zero": false},
              "axis": {
                "title": null,
                "values": [-190,-180,-170,-160,-150,-140,-130,-120,-110,-100,-90,-80,-70,-60,-50],
                "tickCount": 30,
                "format": ".1f",
                "labelOverlap": false, "labelBound": false, "labelFlush": false,
                "labelFont": "Liberation Sans", "labelFontSize": 13, "labelFontWeight": "bold", "labelColor": "#333", "labelPadding": 10,
                "ticks": false, "domain": false,
                "grid": true, "gridColor": "#000",
                "gridWidth": {"condition": {"test": "datum.value === -50", "value": 2.5}, "value": 1},
                "gridOpacity": 1
              }
            },
            "color": {"field": "trace", "type": "nominal",
              "scale": {"domain": ["WRS GM", "WRS SLAVE (Unsaved)", "WRS-LJ GM (Unsaved)", "WRS-LJ slave (Unsaved)"], "range": ["#0000ff", "#ff00ff", "#1e8c1e", "#ff0000"]},
              "legend": null}
          }
        },
        {
          "data": {"values": [{"hz": 1}, {"hz": 100000}]},
          "mark": {"type": "rule", "color": "#0000ff", "strokeWidth": 2, "strokeDash": [6, 3]},
          "encoding": {"x": {"field": "hz", "type": "quantitative"}}
        },
        {
          "mark": {"type": "text", "align": "left", "dx": 3, "color": "#0000ff", "fontWeight": "bold", "fontSize": 12, "font": "Liberation Sans", "baseline": "middle"},
          "encoding": {"x": {"datum": 1}, "y": {"datum": -185}, "text": {"value": "1 Hz"}}
        },
        {
          "mark": {"type": "text", "align": "right", "dx": -3, "color": "#0000ff", "fontWeight": "bold", "fontSize": 12, "font": "Liberation Sans", "baseline": "middle"},
          "encoding": {"x": {"datum": 100000}, "y": {"datum": -185}, "text": {"value": "100 kHz"}}
        }
      ]
    },
    {
      "spacing": 0,
      "hconcat": [
        {
          "width": 192,
          "height": 86,
          "view": {"fill": "#dfe6f1", "stroke": "#444", "strokeWidth": 1.5},
          "data": {"name": "tbl"},
          "encoding": {
            "y": {"field": "row", "type": "nominal",
              "scale": {"type": "point", "domain": ["h", "1", "2", "3", "4"], "padding": 0.744},
              "axis": {"values": ["h"], "labels": false, "ticks": false, "domain": false, "title": null, "minExtent": 0, "maxExtent": 0, "offset": 0, "grid": true, "gridColor": "#222", "gridWidth": 2, "tickOffset": 7.8}
            }
          },
          "layer": [
            {
              "transform": [{"filter": "datum.row === 'h'"}],
              "mark": {"type": "text", "fontSize": 13, "font": "Liberation Sans", "color": "#222"},
              "encoding": {"text": {"field": "name"}}
            },
            {
              "transform": [{"filter": "datum.row !== 'h'"}],
              "mark": {"type": "text", "align": "left", "dx": -80, "fontSize": 13, "fontWeight": "bold", "font": "Liberation Sans"},
              "encoding": {
                "text": {"field": "name"},
                "color": {"field": "name", "type": "nominal",
                  "scale": {"domain": ["WRS GM", "WRS SLAVE (Unsaved)", "WRS-LJ GM (Unsaved)", "WRS-LJ slave (Unsaved)"], "range": ["#0000ff", "#ff00ff", "#1e8c1e", "#ff0000"]},
                  "legend": null}
              }
            }
          ]
        },
        {
          "width": 100,
          "height": 86,
          "view": {"fill": "#dfe6f1", "stroke": "#444", "strokeWidth": 1.5},
          "data": {"name": "tbl"},
          "encoding": {
            "y": {"field": "row", "type": "nominal",
              "scale": {"type": "point", "domain": ["h", "1", "2", "3", "4"], "padding": 0.744},
              "axis": {"values": ["h"], "labels": false, "ticks": false, "domain": false, "title": null, "minExtent": 0, "maxExtent": 0, "offset": 0, "grid": true, "gridColor": "#222", "gridWidth": 2, "tickOffset": 7.8}
            }
          },
          "layer": [
            {
              "transform": [{"filter": "datum.row === 'h'"}],
              "mark": {"type": "text", "fontSize": 13.5, "font": "Liberation Sans", "color": "#0000ff"},
              "encoding": {"text": {"field": "jitter"}}
            },
            {
              "transform": [{"filter": "datum.row !== 'h'"}],
              "mark": {"type": "text", "align": "left", "dx": -41, "fontSize": 13.5, "fontWeight": "bold", "font": "Liberation Sans"},
              "encoding": {
                "text": {"field": "jitter"},
                "color": {"field": "name", "type": "nominal",
                  "scale": {"domain": ["WRS GM", "WRS SLAVE (Unsaved)", "WRS-LJ GM (Unsaved)", "WRS-LJ slave (Unsaved)"], "range": ["#0000ff", "#ff00ff", "#1e8c1e", "#ff0000"]},
                  "legend": null}
              }
            }
          ]
        },
        {
          "width": 52,
          "height": 86,
          "data": {"values": []},
          "mark": {"type": "point", "opacity": 0},
          "encoding": {}
        }
      ]
    }
  ]
}
